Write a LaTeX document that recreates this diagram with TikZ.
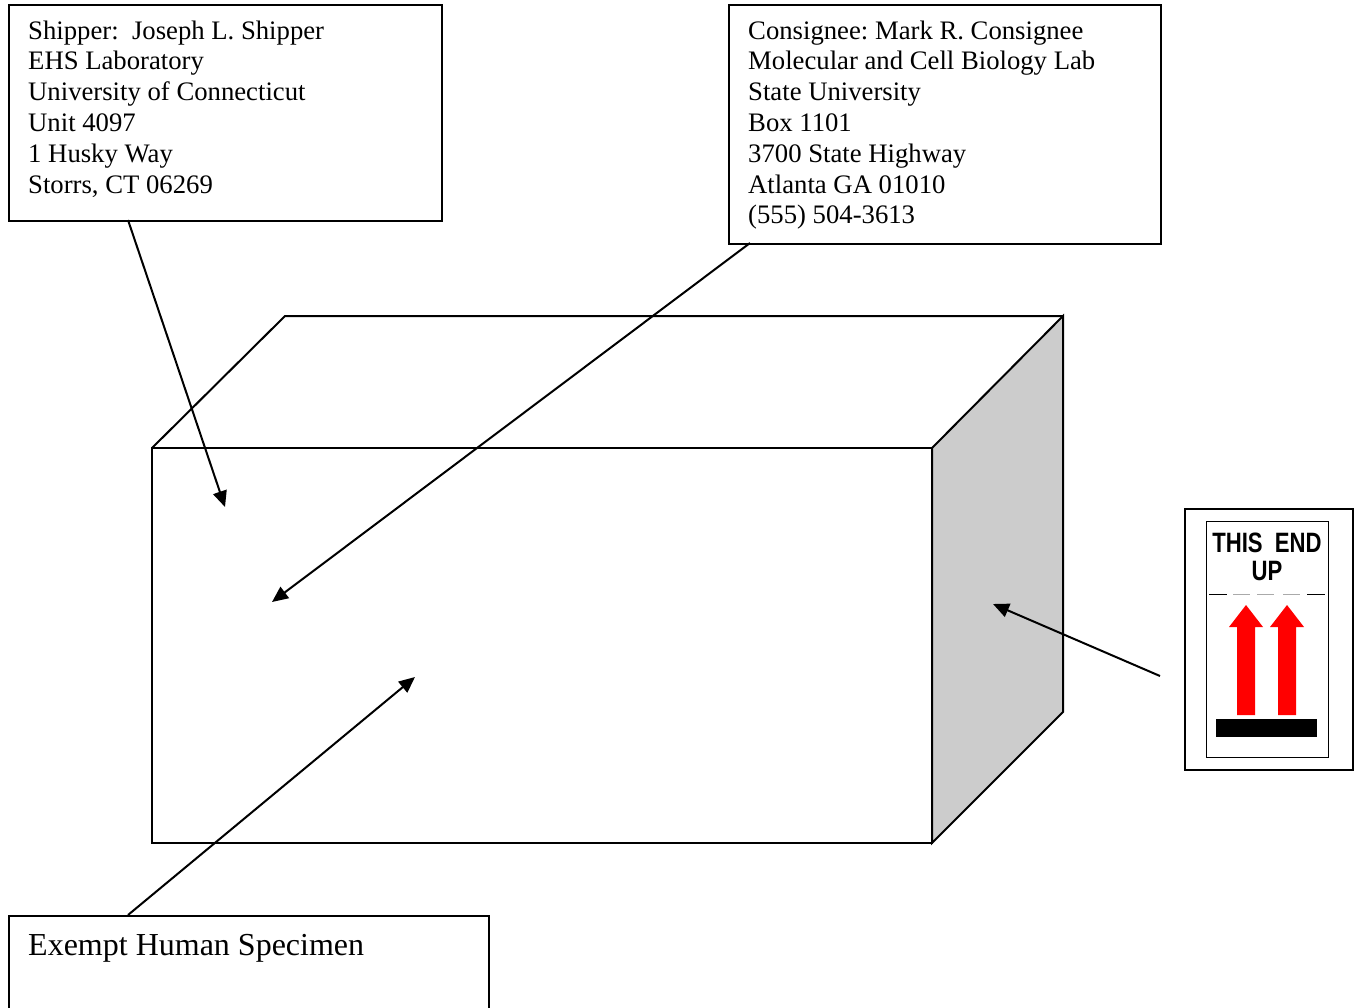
\documentclass[tikz,border=0pt]{standalone}
\usepackage{fontspec}
\setmainfont{Liberation Serif}
\newfontfamily\signfont{Liberation Sans}
\usepackage{xcolor}
\usepackage{tikz}
\usetikzlibrary{arrows.meta}
\definecolor{sidegray}{HTML}{CCCCCC}
\definecolor{upred}{HTML}{FF0000}
\definecolor{dashgray}{HTML}{AAAAAA}
\frenchspacing

\begin{document}
\begin{tikzpicture}[x=1pt,y=-1pt]
			\tikzstyle{addrbox} = [draw, line width=2pt, inner sep=0pt, anchor=north west]
			\tikzstyle{addrtext} = [anchor=base west, align=left, inner sep=0pt, font=\fontsize{26.7}{30.8}\selectfont]
			\tikzstyle{face} = [draw, line width=2pt, line join=miter]
			\tikzset{pointer/.style = {line width=2pt, -{Triangle[length=16pt,width=14pt]}}}
			
			\useasboundingbox (0,0) rectangle (1359,1007);
			
			% the package
			\filldraw[face, fill=sidegray] (932,448) -- (1063,316) -- (1063,712) -- (932,843) -- cycle;
			\draw[face] (152,448) -- (285,316) -- (1063,316);
			\draw[face] (152,448) rectangle (932,843);
			
			\node[addrbox, minimum width=433, minimum height=216](shipper) at (8,4) {};
			\node[addrtext](shiptext) at (28,193) {Shipper:~ Joseph L. Shipper\\EHS Laboratory\\University of Connecticut\\Unit 4097\\1 Husky Way\\Storrs, CT 06269};
			
			\node[addrbox, minimum width=432, minimum height=239](consignee) at (728,4) {};
			\node[addrtext](constext) at (748,223.8) {Consignee: Mark R. Consignee\\Molecular and Cell Biology Lab\\State University\\Box 1101\\3700 State Highway\\Atlanta GA 01010\\(555) 504-3613};
			
			\node[addrbox, minimum width=480, minimum height=130](exempt) at (8,915) {};
			\node[addrtext, font=\fontsize{32}{36}\selectfont](exempttext) at (28,955) {Exempt Human Specimen};
			
			% orientation label
			\node[addrbox, minimum width=168, minimum height=261](upsign) at (1184,508) {};
			\node[addrbox, line width=1pt, minimum width=122, minimum height=236](upcard) at (1206,521) {};
			\node[anchor=north, inner sep=0pt, align=center, xscale=0.79, font=\signfont\bfseries\fontsize{28}{28}\selectfont](uptext) at (1267,533) {THIS~ END\\UP};
			\draw[line width=1pt] (1209,594) -- (1227,594) (1307,594) -- (1325,594);
			\foreach \x in {1233,1257,1283}
				\draw[line width=1pt, dashgray] (\x,594) -- ++(17,0);
			\foreach \x in {1246,1287}
				\fill[upred] (\x-9,715) -- (\x-9,627) -- (\x-17,627) -- (\x,605) -- (\x+17,627) -- (\x+9,627) -- (\x+9,715) -- cycle;
			\fill (1216,719) rectangle (1317,737);
			
			% pointers
			\coordinate (shipfoot) at (128,220);
			\coordinate (shiptip) at (225,507);
			\coordinate (consfoot) at (750,243);
			\coordinate (constip) at (272,602);
			\coordinate (exemptfoot) at (128,915);
			\coordinate (exempttip) at (415,677);
			\coordinate (signfoot) at (1160,676);
			\coordinate (sidetip) at (993,604);
			\draw[pointer](shipfoot) to (shiptip);
			\draw[pointer](consfoot) to (constip);
			\draw[pointer](exemptfoot) to (exempttip);
			\draw[pointer](signfoot) to (sidetip);
			
			\end{tikzpicture}
\end{document}
